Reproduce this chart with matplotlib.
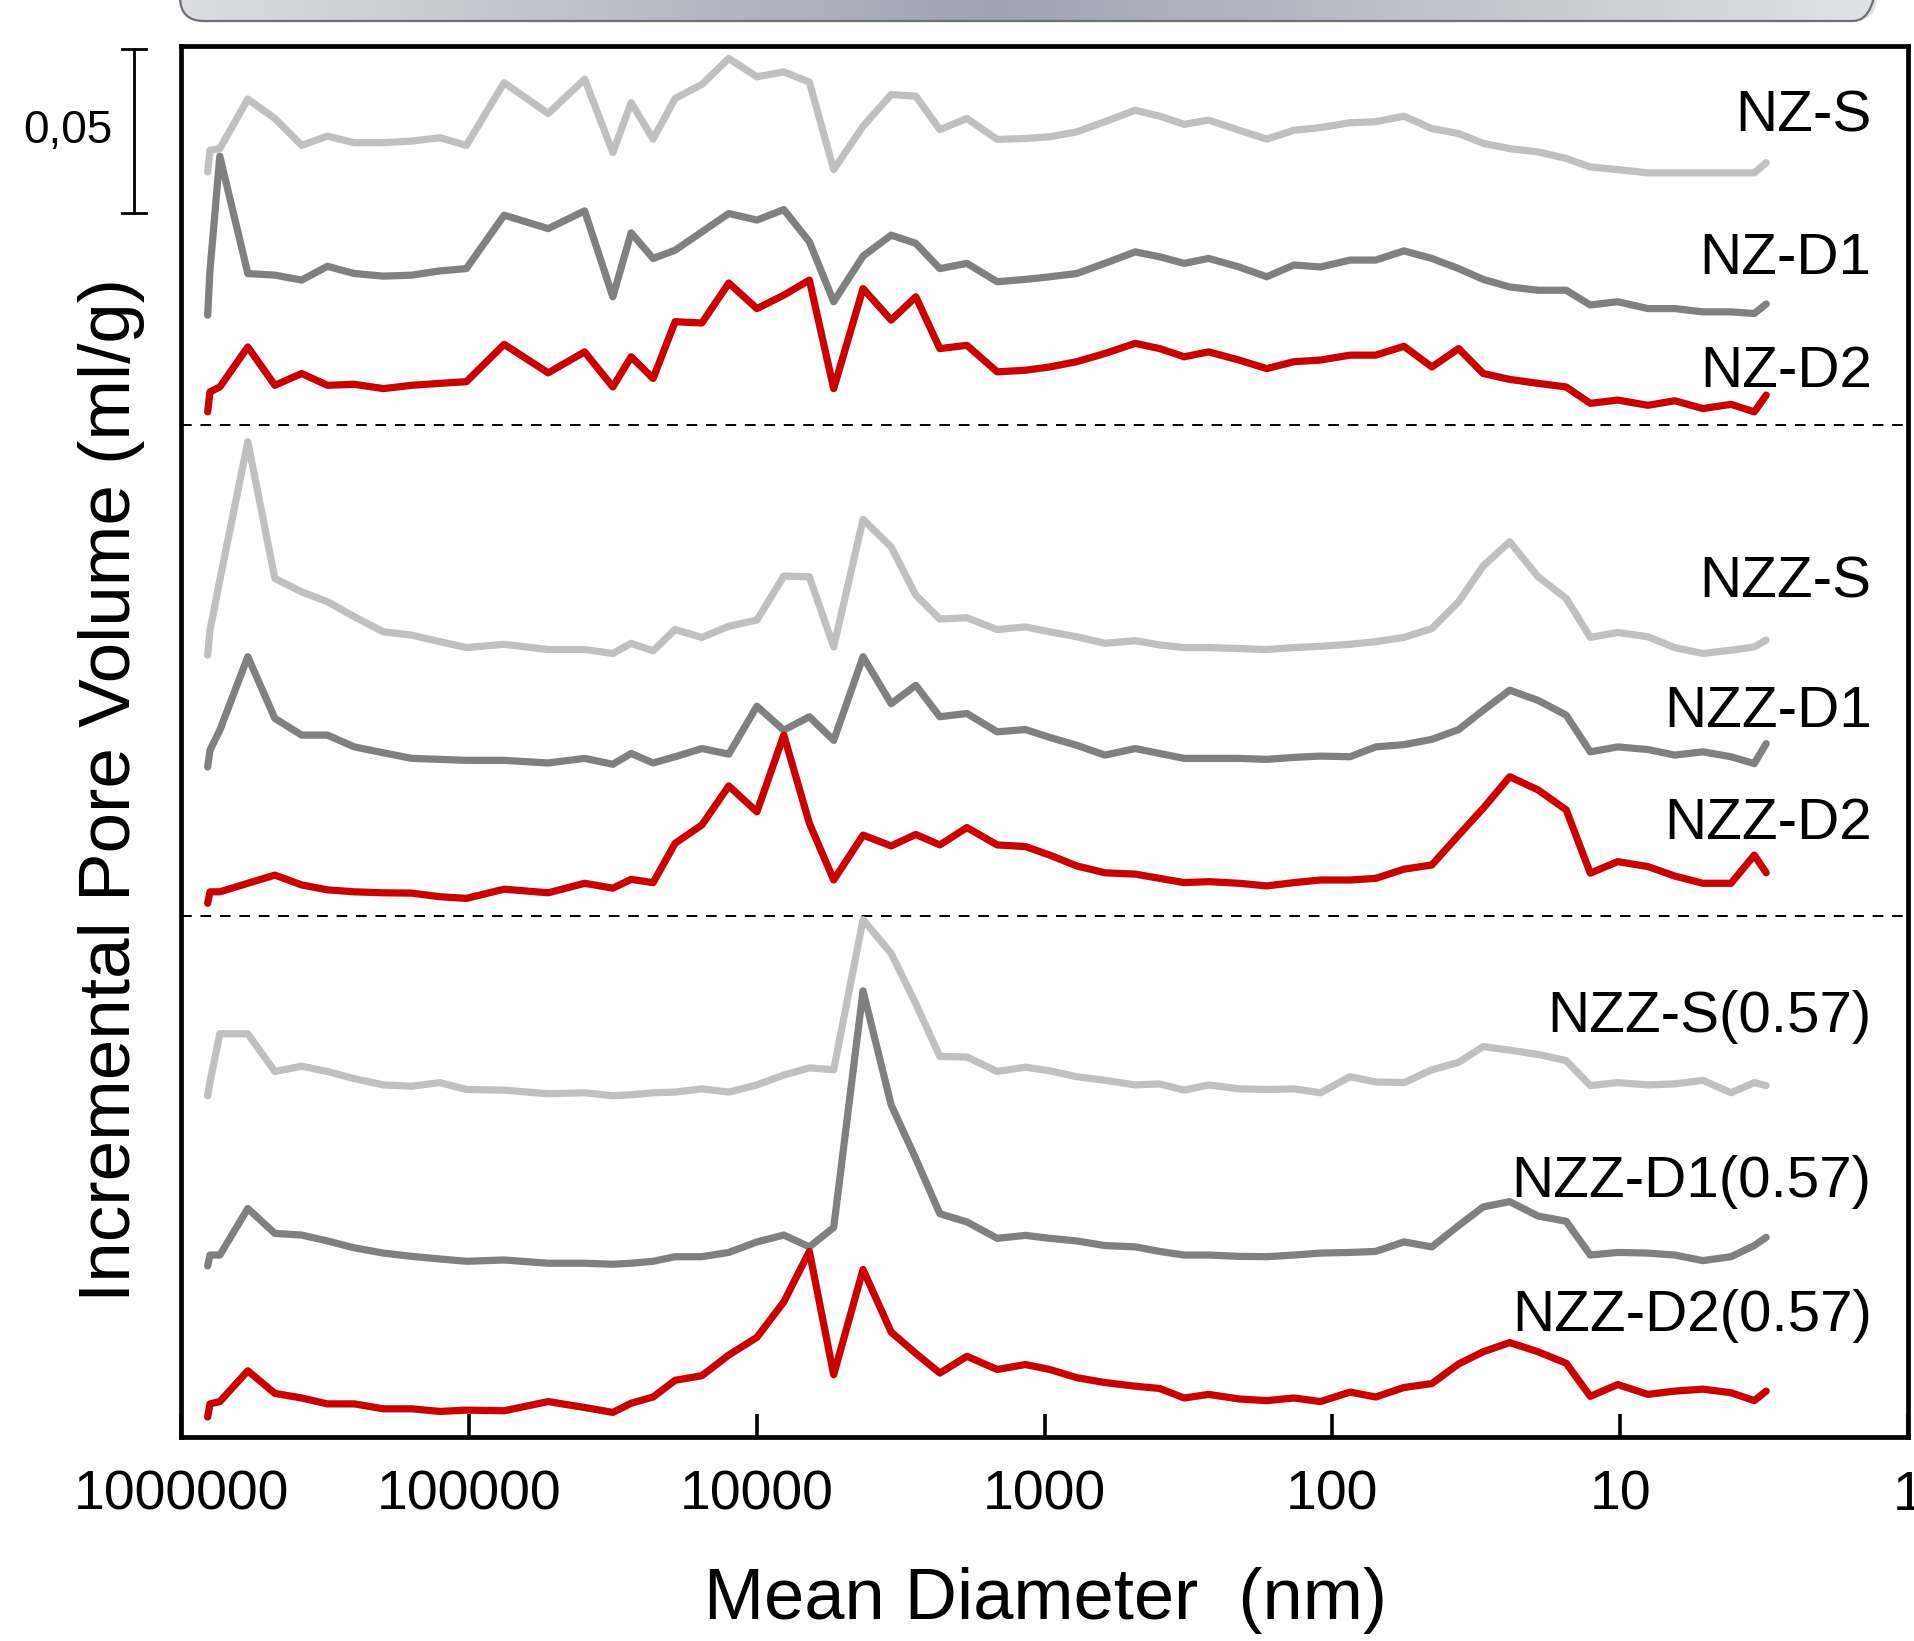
import numpy as np
import matplotlib
matplotlib.use("Agg")
import matplotlib.pyplot as plt
import matplotlib.transforms as mtransforms
from matplotlib.patches import FancyBboxPatch

plt.rcParams['font.family'] = ['Liberation Sans', 'DejaVu Sans']

# --- Data: incremental pore volume (ml/g) vs mean pore diameter (nm) ---
diameter = [808000, 793000, 733000, 586000, 472000, 381000, 310000, 250000, 198000, 158000,
            126000, 102000, 75400, 53000, 39600, 31600, 27300, 22900, 19200, 15500,
            12500, 9980, 8050, 6560, 5400, 4270, 3410, 2800, 2310, 1860,
            1460, 1165, 959, 773, 617, 484, 398, 327, 269, 211,
            169, 136, 110, 86.8, 70.7, 56.4, 45.1, 36.4, 29.9, 24.2,
            19.3, 15.4, 12.7, 10.2, 8.01, 6.46, 5.16, 4.12, 3.42, 3.11]

nz_s = [0.0003, 0.0069, 0.0074, 0.0225, 0.0166, 0.0084, 0.0112, 0.0092, 0.0092, 0.0097,
        0.0107, 0.0084, 0.0275, 0.0181, 0.0286, 0.0062, 0.0214, 0.0103, 0.0227, 0.0270,
        0.0349, 0.0293, 0.0308, 0.0277, 0.0010, 0.0142, 0.0239, 0.0234, 0.0132, 0.0166,
        0.0102, 0.0105, 0.0110, 0.0125, 0.0156, 0.0191, 0.0173, 0.0148, 0.0161, 0.0130,
        0.0103, 0.0130, 0.0138, 0.0153, 0.0156, 0.0173, 0.0135, 0.0120, 0.0090, 0.0074,
        0.0064, 0.0044, 0.0018, 0.0010, 0.0000, 0.0000, 0.0000, 0.0000, 0.0000, 0.0031]
nz_d1 = [0.0000, 0.0137, 0.0485, 0.0127, 0.0122, 0.0107, 0.0149, 0.0127, 0.0119, 0.0122,
         0.0135, 0.0142, 0.0305, 0.0264, 0.0318, 0.0056, 0.0251, 0.0173, 0.0198, 0.0254,
         0.0310, 0.0290, 0.0322, 0.0224, 0.0041, 0.0180, 0.0244, 0.0219, 0.0142, 0.0158,
         0.0102, 0.0109, 0.0117, 0.0127, 0.0158, 0.0193, 0.0178, 0.0158, 0.0173, 0.0147,
         0.0117, 0.0153, 0.0147, 0.0168, 0.0168, 0.0196, 0.0173, 0.0142, 0.0109, 0.0086,
         0.0076, 0.0076, 0.0031, 0.0041, 0.0020, 0.0020, 0.0010, 0.0010, 0.0005, 0.0034]
nz_d2 = [0.0000, 0.0061, 0.0076, 0.0198, 0.0081, 0.0117, 0.0081, 0.0084, 0.0071, 0.0081,
         0.0087, 0.0092, 0.0206, 0.0119, 0.0183, 0.0076, 0.0168, 0.0102, 0.0275, 0.0271,
         0.0393, 0.0315, 0.0356, 0.0402, 0.0071, 0.0376, 0.0280, 0.0351, 0.0193, 0.0203,
         0.0122, 0.0127, 0.0137, 0.0153, 0.0178, 0.0209, 0.0193, 0.0168, 0.0183, 0.0158,
         0.0132, 0.0153, 0.0158, 0.0173, 0.0173, 0.0200, 0.0137, 0.0193, 0.0117, 0.0099,
         0.0087, 0.0076, 0.0026, 0.0036, 0.0020, 0.0034, 0.0010, 0.0023, 0.0000, 0.0051]
nzz_s = [0.0000, 0.0076, 0.0229, 0.0651, 0.0234, 0.0193, 0.0163, 0.0117, 0.0071, 0.0061,
         0.0041, 0.0023, 0.0033, 0.0017, 0.0017, 0.0005, 0.0036, 0.0013, 0.0078, 0.0054,
         0.0088, 0.0107, 0.0241, 0.0239, 0.0025, 0.0414, 0.0330, 0.0183, 0.0110, 0.0114,
         0.0078, 0.0086, 0.0071, 0.0056, 0.0036, 0.0044, 0.0031, 0.0023, 0.0023, 0.0020,
         0.0017, 0.0023, 0.0027, 0.0033, 0.0041, 0.0054, 0.0081, 0.0163, 0.0272, 0.0346,
         0.0239, 0.0173, 0.0054, 0.0069, 0.0056, 0.0023, 0.0005, 0.0015, 0.0025, 0.0046]
nzz_d1 = [0.0000, 0.0051, 0.0112, 0.0336, 0.0148, 0.0097, 0.0097, 0.0061, 0.0043, 0.0026,
          0.0023, 0.0020, 0.0020, 0.0012, 0.0026, 0.0008, 0.0041, 0.0012, 0.0031, 0.0056,
          0.0039, 0.0185, 0.0112, 0.0153, 0.0081, 0.0336, 0.0193, 0.0249, 0.0153, 0.0163,
          0.0107, 0.0114, 0.0090, 0.0066, 0.0036, 0.0056, 0.0041, 0.0026, 0.0026, 0.0026,
          0.0023, 0.0029, 0.0033, 0.0031, 0.0061, 0.0068, 0.0084, 0.0114, 0.0173, 0.0234,
          0.0203, 0.0158, 0.0046, 0.0061, 0.0053, 0.0036, 0.0046, 0.0031, 0.0010, 0.0071]
nzz_d2 = [0.0000, 0.0035, 0.0035, 0.0061, 0.0086, 0.0056, 0.0041, 0.0035, 0.0032, 0.0031,
          0.0020, 0.0015, 0.0043, 0.0032, 0.0061, 0.0046, 0.0073, 0.0063, 0.0183, 0.0239,
          0.0358, 0.0279, 0.0513, 0.0244, 0.0071, 0.0208, 0.0175, 0.0210, 0.0178, 0.0231,
          0.0178, 0.0173, 0.0147, 0.0114, 0.0093, 0.0089, 0.0076, 0.0063, 0.0066, 0.0061,
          0.0053, 0.0063, 0.0071, 0.0071, 0.0076, 0.0104, 0.0117, 0.0208, 0.0290, 0.0386,
          0.0346, 0.0285, 0.0092, 0.0127, 0.0112, 0.0083, 0.0061, 0.0061, 0.0147, 0.0093]
nzz_s57 = [0.0000, 0.0042, 0.0189, 0.0189, 0.0074, 0.0090, 0.0074, 0.0052, 0.0033, 0.0029,
           0.0040, 0.0019, 0.0017, 0.0006, 0.0009, 0.0000, 0.0003, 0.0009, 0.0011, 0.0021,
           0.0011, 0.0033, 0.0063, 0.0085, 0.0079, 0.0537, 0.0434, 0.0281, 0.0120, 0.0118,
           0.0074, 0.0087, 0.0076, 0.0058, 0.0047, 0.0033, 0.0036, 0.0017, 0.0033, 0.0021,
           0.0019, 0.0021, 0.0009, 0.0058, 0.0042, 0.0040, 0.0079, 0.0102, 0.0150, 0.0139,
           0.0126, 0.0107, 0.0031, 0.0040, 0.0033, 0.0036, 0.0047, 0.0009, 0.0040, 0.0031]
nzz_d1_57 = [0.0000, 0.0033, 0.0033, 0.0175, 0.0099, 0.0094, 0.0076, 0.0055, 0.0039, 0.0029,
             0.0021, 0.0014, 0.0018, 0.0008, 0.0008, 0.0005, 0.0008, 0.0014, 0.0028, 0.0028,
             0.0041, 0.0073, 0.0094, 0.0058, 0.0117, 0.0839, 0.0491, 0.0327, 0.0159, 0.0134,
             0.0084, 0.0093, 0.0084, 0.0076, 0.0062, 0.0058, 0.0044, 0.0033, 0.0033, 0.0029,
             0.0028, 0.0033, 0.0039, 0.0041, 0.0044, 0.0073, 0.0058, 0.0123, 0.0180, 0.0196,
             0.0152, 0.0136, 0.0033, 0.0041, 0.0039, 0.0033, 0.0016, 0.0028, 0.0062, 0.0087]
nzz_d2_57 = [0.0000, 0.0040, 0.0047, 0.0141, 0.0072, 0.0058, 0.0040, 0.0040, 0.0025, 0.0025,
             0.0017, 0.0021, 0.0019, 0.0047, 0.0029, 0.0014, 0.0042, 0.0061, 0.0112, 0.0126,
             0.0189, 0.0243, 0.0351, 0.0505, 0.0129, 0.0450, 0.0259, 0.0194, 0.0134, 0.0185,
             0.0145, 0.0160, 0.0145, 0.0120, 0.0105, 0.0094, 0.0087, 0.0058, 0.0069, 0.0055,
             0.0050, 0.0058, 0.0047, 0.0076, 0.0061, 0.0090, 0.0102, 0.0162, 0.0199, 0.0227,
             0.0199, 0.0164, 0.0063, 0.0099, 0.0069, 0.0079, 0.0085, 0.0074, 0.0050, 0.0079]

labels = ["NZ-S", "NZ-D1", "NZ-D2", "NZZ-S", "NZZ-D1", "NZZ-D2",
          "NZZ-S(0.57)", "NZZ-D1(0.57)", "NZZ-D2(0.57)"]
series = [nz_s, nz_d1, nz_d2, nzz_s, nzz_d1, nzz_d2, nzz_s57, nzz_d1_57, nzz_d2_57]

xticks = [1e6, 1e5, 1e4, 1e3, 1e2, 10, 1]
xticklabels = ["1000000", "100000", "10000", "1000", "100", "10", "1"]

# --- Layout / style ---
offsets = [0.3856, 0.3422, 0.3127, 0.2385, 0.2044, 0.1628, 0.1041, 0.0522, 0.0061]
label_y = [0.3983, 0.3547, 0.3203, 0.2562, 0.2166, 0.1824, 0.1235, 0.0732, 0.0323]
colors = ["#c0c0c0", "#808080", "#cc0000"] * 3
dividers = [0.3087, 0.1589]

W, H = 1915, 1641
fig = plt.figure(figsize=(W / 100, H / 100), dpi=100)
ax = fig.add_axes([181 / W, 1 - 1437 / H, (1908 - 181) / W, (1437 - 46) / H])

for vals, off, col in zip(series, offsets, colors):
    ax.plot(diameter, np.array(vals) + off, color=col, lw=5.2,
            solid_joinstyle='round', solid_capstyle='round', zorder=3)

for yd in dividers:
    ax.axhline(yd, color='black', lw=1.4, dashes=(5.5, 4.5), zorder=2)

ax.set_xscale('log')
ax.set_xlim(1e6, 1)
ax.set_ylim(0, 0.4243)
ax.set_xticks(xticks)
ax.set_xticklabels(xticklabels)
ax.xaxis.set_minor_locator(matplotlib.ticker.NullLocator())
ax.set_yticks([])
ax.tick_params(axis='x', direction='in', length=16.5, width=2.6,
               labelsize=40, pad=23.5)
for s in ax.spines.values():
    s.set_linewidth(3.4)

trans = mtransforms.blended_transform_factory(ax.transAxes, ax.transData)
for lab, ly in zip(labels, label_y):
    ax.text(0.979, ly, lab, transform=trans, ha='right', va='baseline',
            fontsize=42, zorder=4)

# scale bar 0.05 ml/g
bar_x = -0.0272
ax.plot([bar_x, bar_x], [0.3735, 0.4235], transform=trans, color='black',
        lw=2.0, clip_on=False)
for yb in (0.3735, 0.4235):
    ax.plot([bar_x - 0.007, bar_x + 0.007], [yb, yb], transform=trans,
            color='black', lw=2.0, clip_on=False)
ax.text(-0.0654, 0.3985, "0,05", transform=trans, ha='center', va='center',
        fontsize=33)

fig.text(1046 / W, 1 - 1600 / H, "Mean Diameter  (nm)", ha='center',
         va='center', fontsize=52)
fig.text(112 / W, 1 - 790 / H, "Incremental Pore Volume (ml/g)", ha='center',
         va='center', rotation=90, fontsize=52.5)

# top banner (cut-off header box)
bg = fig.add_axes([0, 0, 1, 1], zorder=-5)
bg.set_xlim(0, W)
bg.set_ylim(H, 0)
bg.axis('off')
t = np.linspace(0, 1, 500)
w = np.clip(1 - np.abs(t - 0.48) / 0.52, 0, 1)
edge = np.array([0.882, 0.886, 0.898])
mid = np.array([0.625, 0.640, 0.700])
grad = (edge[None, :] * (1 - w[:, None]) + mid[None, :] * w[:, None])[None, :, :]
box = FancyBboxPatch((180, -60), 1697, 81, boxstyle='round,pad=0,rounding_size=24',
                     fc='none', ec='#6e7075', lw=1.6)
bg.add_patch(box)
im = bg.imshow(grad, extent=(180, 1877, 21, -60), aspect='auto', zorder=-1)
im.set_clip_path(box)

fig.savefig("out.png", dpi=100)
